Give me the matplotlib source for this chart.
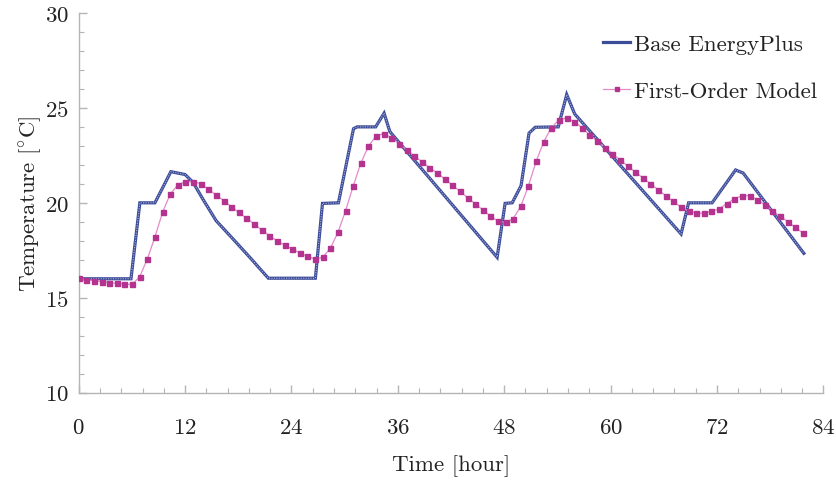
import numpy as np
import matplotlib
matplotlib.use('Agg')
import matplotlib.pyplot as plt
from matplotlib.ticker import MultipleLocator

# EnergyPlus zone temperature (hour, degC) at the break points of the trace
base_hours = [0, 5.9, 6.9, 8.6, 10.4, 12.0, 12.9, 14.0, 15.5, 17.4, 19.3, 20.8, 21.4,
              26.7, 27.5, 29.3, 31.0, 31.4, 33.5, 34.45, 35.1, 47.2,
              48.1, 48.9, 49.9, 50.8, 51.5, 54.1, 55.05, 55.95, 67.95,
              68.8, 71.45, 74.1, 74.95, 81.8]
base_temp = [16.0, 16.0, 20.0, 20.0, 21.64, 21.49, 21.08, 20.2, 19.06, 18.1, 17.13, 16.34, 16.03,
             16.03, 19.97, 20.0, 23.9, 24.0, 24.0, 24.72, 23.75, 17.13,
             19.97, 20.0, 20.9, 23.67, 23.98, 24.0, 25.7, 24.68, 18.36,
             20.0, 20.0, 21.73, 21.57, 17.34]

# first-order model output, one sample every 0.86 h
model_step = 0.86
model_temp = [16.03, 15.95, 15.9, 15.85, 15.8, 15.76, 15.71, 15.71, 16.1, 17.04,
              18.2, 19.5, 20.45, 20.94, 21.12, 21.12, 21.01, 20.72, 20.42, 20.12,
              19.8, 19.5, 19.19, 18.89, 18.57, 18.27, 18.0, 17.78, 17.57, 17.36,
              17.19, 17.04, 17.13, 17.6, 18.44, 19.57, 20.87, 22.08, 22.98, 23.51,
              23.65, 23.44, 23.12, 22.8, 22.47, 22.17, 21.85, 21.58, 21.26, 20.93,
              20.61, 20.27, 19.96, 19.63, 19.31, 19.03, 18.97, 19.17, 19.83, 20.9,
              22.18, 23.22, 23.96, 24.37, 24.47, 24.28, 23.96, 23.58, 23.26, 22.91,
              22.59, 22.26, 21.94, 21.63, 21.31, 21.0, 20.69, 20.37, 20.07, 19.78,
              19.57, 19.47, 19.45, 19.56, 19.68, 19.96, 20.2, 20.38, 20.38, 20.17,
              19.89, 19.59, 19.29, 19.01, 18.71, 18.4]
model_hours = np.arange(len(model_temp)) * model_step

plt.rcParams['font.family'] = 'cmr10'
plt.rcParams['mathtext.fontset'] = 'cm'
plt.rcParams['axes.unicode_minus'] = False
plt.rcParams['axes.formatter.use_mathtext'] = True

fs = 16.5
fig = plt.figure(figsize=(8.37, 4.81), dpi=100)
ax = fig.add_axes([0.094, 0.1815, 0.8897, 0.7895])

blue, = ax.plot(base_hours, base_temp, color='#3d4c98', lw=2.3, solid_joinstyle='miter')
ax.plot(base_hours, base_temp, color='#aab5de', lw=0.8, ls=(0, (1, 1.2)))
pink, = ax.plot(model_hours, model_temp, color='#e48bc9', lw=0.9,
                marker='s', ms=3.6, mfc='#b3338f', mec='#b3338f', zorder=3)

ax.set_xlim(0, 84)
ax.set_ylim(10, 30)
ax.xaxis.set_major_locator(MultipleLocator(12))
ax.xaxis.set_minor_locator(MultipleLocator(2.4))
ax.yaxis.set_major_locator(MultipleLocator(5))
ax.yaxis.set_minor_locator(MultipleLocator(1))

for s in ['top', 'right']:
    ax.spines[s].set_visible(False)
for s in ['left', 'bottom']:
    ax.spines[s].set_color('#b5b5b5')
    ax.spines[s].set_linewidth(1.0)
ax.tick_params(which='both', direction='in', color='#b5b5b5', labelsize=fs, labelcolor='#222222')
ax.tick_params(which='major', length=6, width=1.0)
ax.tick_params(which='minor', length=3.5, width=0.8)
ax.tick_params(axis='x', which='major', pad=18)
ax.tick_params(axis='y', which='major', pad=7)

ax.set_xlabel('Time [hour]', fontsize=fs, color='#222222', labelpad=12)
ax.set_ylabel(r'Temperature [$^{\circ}$C]', fontsize=fs, color='#222222', labelpad=1)

leg = ax.legend([blue, pink], ['Base EnergyPlus', 'First-Order Model'],
                loc='upper right', bbox_to_anchor=(1.01, 0.98), frameon=False,
                fontsize=fs, handlelength=1.2, handletextpad=0.15, labelspacing=1.15,
                markerscale=0.7, borderaxespad=0.2)
for t in leg.get_texts():
    t.set_color('#222222')

fig.savefig('out.png', dpi=100)
